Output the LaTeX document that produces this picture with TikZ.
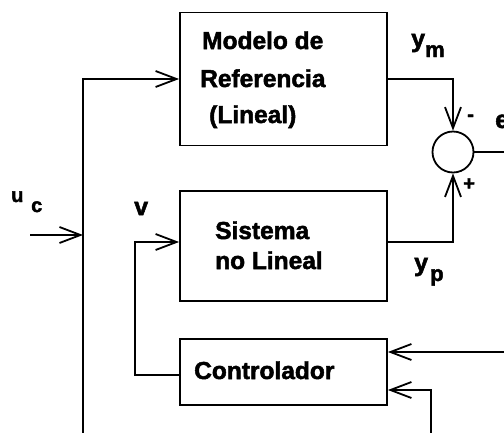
\documentclass[tikz,border=0pt]{standalone}
\usepackage{fontspec}
\setmainfont{Liberation Sans}[BoldFeatures={FakeBold=2}]
\usetikzlibrary{arrows.meta}
\tikzset{
  wire/.style={line width=1.8pt, line cap=rect},
  arr/.style={wire, -{Straight Barb[length=21pt,width=16pt,line width=1.8pt]}},
  blk/.style={draw, line width=1.8pt, minimum width=207pt, inner sep=0pt},
  txt/.style={font=\fontsize{24.5}{24.5}\selectfont\bfseries, inner sep=0pt, anchor=base west},
  lbl/.style={font=\fontsize{25}{25}\selectfont\bfseries, inner sep=0pt, anchor=base west},
  sub/.style={font=\fontsize{22}{22}\selectfont\bfseries, inner sep=0pt, anchor=base west},
  sml/.style={font=\fontsize{20}{20}\selectfont\bfseries, inner sep=0pt, anchor=base west},
}
\begin{document}
\begin{tikzpicture}[x=1pt,y=-1pt]
\useasboundingbox (0,0) rectangle (504,432);
% blocks
\node[blk, minimum height=133pt] (ref) at (283.5,79) {};
\node[blk, minimum height=110pt] (sis) at (283.5,246) {};
\node[blk, minimum height=66pt]  (con) at (283.5,372) {};
\node[draw, circle, line width=1.8pt, minimum size=41pt, inner sep=0pt] (sum) at (453,152) {};
% texts
\node[txt] (t1) at (202,49) {Modelo de};
\node[txt] (t2) at (200,87) {Referencia};
\node[txt] (t3) at (209,123) {(Lineal)};
\node[txt] (t4) at (215,239) {Sistema};
\node[txt] (t5) at (215,269) {no Lineal};
\node[txt] (t6) at (194,379) {Controlador};
% coordinates
\coordinate (uin) at (31,235);
\coordinate (bus) at (83,235);
\coordinate (bustop) at (83,79);
\coordinate (busbot) at (83,432);
\coordinate (ym) at (453,79);
\coordinate (yp) at (453,242);
\coordinate (vx) at (135,242);
\coordinate (vb) at (135,375);
\coordinate (eout) at (504,152);
\coordinate (fb1) at (504,352);
\coordinate (fb2a) at (431,432);
\coordinate (fb2b) at (431,390);
% connectors
\draw[arr] (uin) -- (bus);
\draw[wire] (busbot) -- (bustop);
\draw[arr] (bustop) -- (ref.west |- bustop);
\draw[arr] (ref.east |- ym) -- (ym) -- (sum.north);
\draw[arr] (sis.east |- yp) -- (yp) -- (sum.south);
\draw[wire] (sum.east) -- (eout);
\draw[arr] (con.west |- vb) -- (vb) -- (vx) -- (sis.west |- vx);
\draw[arr] (fb1) -- (con.east |- fb1);
\draw[arr] (fb2a) -- (fb2b) -- (con.east |- fb2b);
% labels
\node[lbl] (lym) at (411,47) {y};
\node[sub] (lyms) at (425,57) {m};
\node[lbl] (lyp) at (414,271) {y};
\node[sub] (lyps) at (430,281) {p};
\node[sml] (luc) at (11,202) {u};
\node[sml] (lucs) at (31,212) {c};
\node[lbl] (lv) at (134,215) {v};
\node[sml] (lminus) at (467,121) {-};
\node[lbl] (le) at (495,128) {e};
\node[sml] (lplus) at (463,190) {+};
\end{tikzpicture}
\end{document}
